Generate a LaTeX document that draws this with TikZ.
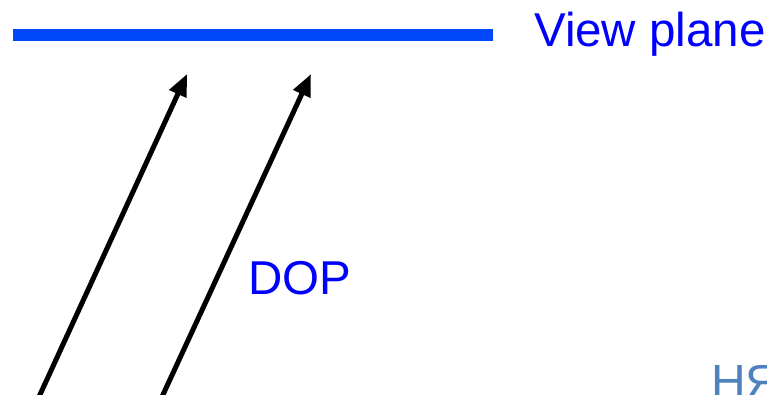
\documentclass[tikz,border=0pt]{standalone}
\usepackage{fontspec}
\setmainfont{Liberation Sans}
\usetikzlibrary{arrows.meta}
\definecolor{planeblue}{RGB}{0,72,250}
\definecolor{textblue}{RGB}{0,0,255}
\definecolor{steel}{RGB}{79,129,189}
\begin{document}
\begin{tikzpicture}[x=1pt,y=1pt,
  dirarrow/.style={line width=5pt,-{Triangle[length=22pt,width=18pt]}},
  bigtext/.style={inner sep=0pt,anchor=base west,font=\fontsize{47.5}{57}\selectfont}]
\useasboundingbox (0,0) rectangle (767,395);
\clip (0,0) rectangle (767,395);
\fill[white] (0,0) rectangle (767,395);
\coordinate (pl) at (13,360);
\coordinate (pr) at (493,360);
\draw[planeblue,line width=12pt] (pl) -- (pr);
\node[bigtext,text=textblue] (vp) at (534,348) {View plane};
\node[bigtext,text=textblue] (dop) at (248,100) {DOP};
\node[inner sep=0pt,anchor=base west,text=steel,font=\fontsize{48}{58}\selectfont] (nya) at (711,-4) {НЯ};
\coordinate (a1s) at (38,-4);
\coordinate (a1e) at (187,321);
\coordinate (a2s) at (161,-4);
\coordinate (a2e) at (311,321);
\draw[dirarrow] (a1s) -- (a1e);
\draw[dirarrow] (a2s) -- (a2e);
\end{tikzpicture}
\end{document}
